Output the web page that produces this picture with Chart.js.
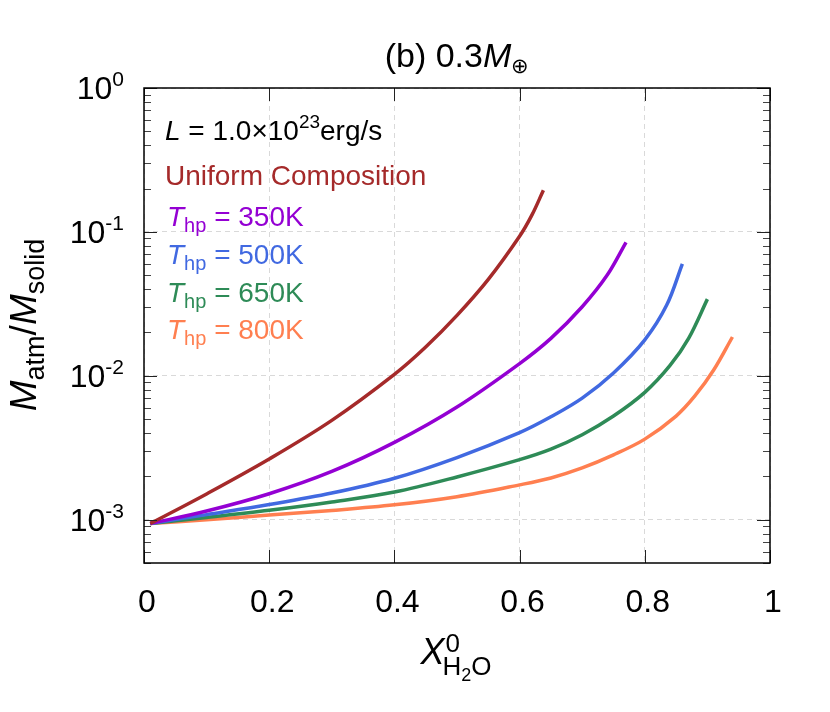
<!DOCTYPE html>
<html lang="en">
<head>
  <meta charset="UTF-8">
  <title>(b) 0.3 M_earth</title>
  <script src="https://cdn.jsdelivr.net/npm/chart.js"></script>
  <style>
    body { margin: 0; background: #fff; }
    #wrap { width: 830px; height: 712px; }
  </style>
</head>
<body>
  <div id="wrap"><canvas id="atmChart" width="830" height="712"></canvas></div>
  <script>
    // values: x = initial H2O fraction, y = M_atm / M_solid
    const xUniform = [0.01, 0.1, 0.2, 0.3, 0.4, 0.45, 0.5, 0.55, 0.6, 0.62, 0.638];
    const yUniform = [9.4e-4, 1.51e-3, 2.64e-3, 4.9e-3, 0.01023, 0.01585, 0.0263, 0.0468, 0.0933, 0.1318, 0.195];

    const x350 = [0.01, 0.1, 0.2, 0.3, 0.4, 0.5, 0.6, 0.65, 0.7, 0.74, 0.77];
    const y350 = [9.4e-4, 1.148e-3, 1.514e-3, 2.163e-3, 3.443e-3, 6.07e-3, 0.01216, 0.0182, 0.0302, 0.0501, 0.0847];

    const x500 = [0.01, 0.1, 0.2, 0.3, 0.4, 0.5, 0.6, 0.65, 0.7, 0.75, 0.8, 0.835, 0.86];
    const y500 = [9.4e-4, 1.084e-3, 1.274e-3, 1.531e-3, 1.941e-3, 2.704e-3, 4.027e-3, 5.19e-3, 7.0e-3, 0.01047, 0.01778, 0.031, 0.06];

    const x650 = [0.01, 0.1, 0.2, 0.3, 0.4, 0.5, 0.6, 0.65, 0.7, 0.75, 0.8, 0.84, 0.87, 0.9];
    const y650 = [9.4e-4, 1.035e-3, 1.161e-3, 1.327e-3, 1.556e-3, 1.982e-3, 2.612e-3, 3.09e-3, 3.89e-3, 5.25e-3, 7.67e-3, 0.01175, 0.0182, 0.0341];

    const x800 = [0.01, 0.1, 0.2, 0.3, 0.4, 0.5, 0.6, 0.65, 0.7, 0.75, 0.8, 0.85, 0.88, 0.91, 0.94];
    const y800 = [9.4e-4, 1.0e-3, 1.076e-3, 1.159e-3, 1.268e-3, 1.445e-3, 1.746e-3, 1.95e-3, 2.29e-3, 2.82e-3, 3.63e-3, 5.25e-3, 7.24e-3, 0.01096, 0.0186];

    const seriesNames = ['Uniform Composition', '350K', '500K', '650K', '800K'];
    const seriesColors = ['#a52a2a', '#9400d3', '#4169e1', '#2e8b57', '#ff7f50'];

    const xTickValues = [0, 0.2, 0.4, 0.6, 0.8, 1];
    const xTickLabels = ['0', '0.2', '0.4', '0.6', '0.8', '1'];
    const yDecades = [1e-3, 1e-2, 1e-1, 1];
    const yExponents = ['-3', '-2', '-1', '0'];

    const FONT = '"Liberation Sans", Arial, Helvetica, sans-serif';

    function pairs(xs, ys) { return xs.map((x, i) => ({ x: x, y: ys[i] })); }

    // draw a run of text pieces: [text, size, italic, dy]
    function drawParts(ctx, parts, x, y, align) {
      let total = 0;
      const widths = parts.map(p => {
        ctx.font = (p[2] ? 'italic ' : '') + p[1] + 'px ' + FONT;
        const w = ctx.measureText(p[0]).width;
        total += w;
        return w;
      });
      let cx = align === 'center' ? x - total / 2 : align === 'right' ? x - total : x;
      ctx.textAlign = 'left';
      ctx.textBaseline = 'alphabetic';
      parts.forEach((p, i) => {
        ctx.font = (p[2] ? 'italic ' : '') + p[1] + 'px ' + FONT;
        ctx.fillText(p[0], cx, y + (p[3] || 0));
        cx += widths[i];
      });
    }

    const decorPlugin = {
      id: 'decor',
      afterDraw(chart) {
        const ctx = chart.ctx;
        const a = chart.chartArea;
        const xs = chart.scales.x, ys = chart.scales.y;
        ctx.save();

        // minor log ticks, left and right
        ctx.strokeStyle = '#444';
        ctx.lineWidth = 1;
        ctx.beginPath();
        for (let k = -4; k <= -1; k++) {
          for (let m = 2; m <= 9; m++) {
            const v = m * Math.pow(10, k);
            if (v < 5e-4 || v > 1) continue;
            const py = Math.round(ys.getPixelForValue(v)) + 0.5;
            ctx.moveTo(a.left, py); ctx.lineTo(a.left + 7, py);
            ctx.moveTo(a.right, py); ctx.lineTo(a.right - 7, py);
          }
        }
        ctx.stroke();

        // major ticks
        ctx.strokeStyle = '#222';
        ctx.beginPath();
        yDecades.forEach(v => {
          const py = Math.round(ys.getPixelForValue(v)) + 0.5;
          ctx.moveTo(a.left, py); ctx.lineTo(a.left + 13, py);
          ctx.moveTo(a.right, py); ctx.lineTo(a.right - 13, py);
        });
        xTickValues.forEach(v => {
          const px = Math.round(xs.getPixelForValue(v)) + 0.5;
          ctx.moveTo(px, a.bottom); ctx.lineTo(px, a.bottom - 13);
          ctx.moveTo(px, a.top); ctx.lineTo(px, a.top + 13);
        });
        ctx.stroke();

        // frame
        ctx.strokeStyle = '#000';
        ctx.lineWidth = 1.5;
        ctx.strokeRect(a.left, a.top, a.right - a.left, a.bottom - a.top);

        ctx.fillStyle = '#000';
        // x tick labels
        xTickValues.forEach((v, i) => {
          drawParts(ctx, [[xTickLabels[i], 32, false, 0]], xs.getPixelForValue(v) + 3, 612, 'center');
        });
        // y tick labels
        yDecades.forEach((v, i) => {
          const py = ys.getPixelForValue(v);
          drawParts(ctx, [['10', 32, false, 0], [yExponents[i], 21, false, -13]], 124, py + 11, 'right');
        });

        // x title
        const xt = 457, xb = 664;
        ctx.font = 'italic 36px ' + FONT;
        const wX = ctx.measureText('X').width;
        ctx.font = '26px ' + FONT;
        const wH = ctx.measureText('H').width;
        ctx.font = '18px ' + FONT;
        const w2 = ctx.measureText('2').width;
        ctx.font = '26px ' + FONT;
        const wO = ctx.measureText('O').width;
        const x0 = xt - (wX + wH + w2 + wO) / 2;
        drawParts(ctx, [['X', 36, true, 0]], x0, xb, 'left');
        drawParts(ctx, [['0', 26, false, -12]], x0 + wX + 1, xb, 'left');
        drawParts(ctx, [['H', 26, false, 11], ['2', 18, false, 17], ['O', 26, false, 11]], x0 + wX - 2, xb, 'left');

        // y title (rotated)
        ctx.save();
        ctx.translate(36, 325);
        ctx.rotate(-Math.PI / 2);
        drawParts(ctx, [['M', 37, true, 0], ['atm', 27, false, 8], ['/', 37, false, 0], ['M', 37, true, 0], ['solid', 27, false, 8]], 0, 0, 'center');
        ctx.restore();

        // title
        drawParts(ctx, [['(b) 0.3', 34, false, 0], ['M', 34, true, 0], ['\u2295', 21, false, 6]], 457, 67, 'center');

        // in-plot annotations
        const lx = 165;
        ctx.fillStyle = '#000';
        drawParts(ctx, [['L', 28, true, 0], [' = 1.0\u00d710', 28, false, 0], ['23', 19, false, -12], ['erg/s', 28, false, 0]], lx, 140, 'left');
        ctx.fillStyle = seriesColors[0];
        drawParts(ctx, [[seriesNames[0], 28, false, 0]], lx, 185, 'left');
        const bases = [226, 264, 302, 339];
        for (let i = 1; i < seriesNames.length; i++) {
          ctx.fillStyle = seriesColors[i];
          drawParts(ctx, [['T', 28, true, 0], ['hp', 20, false, 6], [' = ' + seriesNames[i], 28, false, 0]], lx + 2, bases[i - 1], 'left');
        }
        ctx.restore();
      }
    };

    const seriesData = [pairs(xUniform, yUniform), pairs(x350, y350), pairs(x500, y500), pairs(x650, y650), pairs(x800, y800)];

    const chart = new Chart(document.getElementById('atmChart').getContext('2d'), {
      type: 'line',
      data: {
        datasets: seriesData.map((d, i) => ({
          label: seriesNames[i],
          data: d,
          borderColor: seriesColors[i],
          borderWidth: 3.5,
          pointRadius: 0,
          fill: false,
          tension: 0.35
        }))
      },
      options: {
        responsive: false,
        animation: false,
        layout: { padding: { left: 144, top: 88, right: 60, bottom: 149 } },
        plugins: { legend: { display: false }, tooltip: { enabled: false } },
        scales: {
          x: {
            type: 'linear', min: 0, max: 1,
            ticks: { display: false, stepSize: 0.2 },
            grid: { color: '#d9d9d9', lineWidth: 1, drawTicks: false },
            border: { display: false, dash: [5, 4] }
          },
          y: {
            type: 'logarithmic', min: 5e-4, max: 1,
            afterBuildTicks: s => { s.ticks = yDecades.map(v => ({ value: v, major: true })); },
            ticks: { display: false },
            grid: { color: '#d9d9d9', lineWidth: 1, drawTicks: false },
            border: { display: false, dash: [5, 4] }
          }
        }
      },
      plugins: [decorPlugin]
    });
  </script>
</body>
</html>
